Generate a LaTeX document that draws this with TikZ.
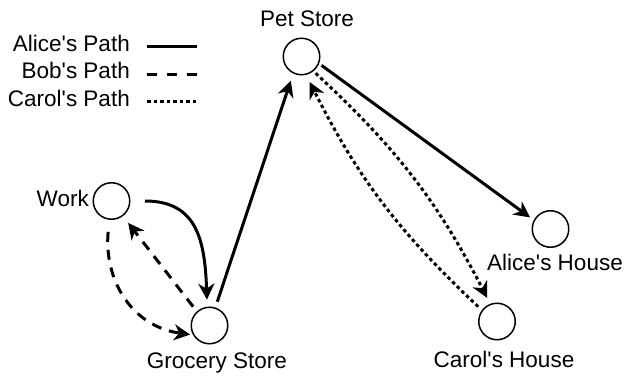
\documentclass[tikz,border=0pt]{standalone}
\usepackage{fontspec}
\setmainfont{Liberation Sans}
\usetikzlibrary{arrows.meta}
\newcommand{\apo}{\textquotesingle}
\begin{document}
\begin{tikzpicture}[x=1pt,y=1pt,
  place/.style={circle,draw,line width=1.5pt,minimum size=36.5pt,inner sep=0pt},
  lbl/.style={inner sep=0pt,font=\fontsize{22.5}{27}\selectfont},
  tip/.style={-{Stealth[length=16pt,width=16pt,inset=5pt]}},
  alicepath/.style={line width=3pt},
  bobpath/.style={line width=3pt,dash pattern=on 10pt off 8pt},
  carolpath/.style={line width=3pt,dash pattern=on 3.5pt off 3pt}]
\useasboundingbox (0,0) rectangle (628,375);
% places
\node[place] (pet) at (301.5,318.5) {};
\node[place] (work) at (111.5,174) {};
\node[place] (groc) at (209.5,49.5) {};
\node[place] (alice) at (550.5,146) {};
\node[place] (carol) at (497,53.5) {};
% labels
\node[lbl,anchor=base] (petl) at (307,348) {Pet Store};
\node[lbl,anchor=base east] (workl) at (89,168) {Work};
\node[lbl,anchor=base] (grocl) at (217,7) {Grocery Store};
\node[lbl,anchor=base] (alicel) at (555,105) {Alice\apo s House};
\node[lbl,anchor=base] (caroll) at (504,8) {Carol\apo s House};
% legend
\node[lbl,anchor=base east] (la) at (130,323) {Alice\apo s Path};
\node[lbl,anchor=base east] (lb) at (130,296) {Bob\apo s Path};
\node[lbl,anchor=base east] (lc) at (130,268) {Carol\apo s Path};
\coordinate (la1) at (147,328); \coordinate (la2) at (197,328);
\coordinate (lb1) at (147,300); \coordinate (lb2) at (197,300);
\coordinate (lc1) at (147,273); \coordinate (lc2) at (197,273);
\draw[alicepath] (la1) -- (la2);
\draw[bobpath,dash pattern=on 10pt off 10pt] (lb1) -- (lb2);
\draw[carolpath] (lc1) -- (lc2);
% Alice
\draw[alicepath,tip,shorten <=14.5pt,shorten >=7pt] (work.east) to[out=0,in=92,looseness=1.3] (groc.97);
\draw[alicepath,tip,shorten <=6pt,shorten >=7.5pt] (groc.72) -- (pet.244);
\draw[alicepath,tip,shorten <=3pt,shorten >=4.5pt] (pet.-22) -- (alice.152);
% Bob
\draw[bobpath,tip,shorten <=12pt,shorten >=3pt] (work.263) to[out=265,in=172,looseness=1.1] (groc.210);
\draw[bobpath,tip,shorten <=6pt,shorten >=8.5pt] (groc.132) -- (work.-53);
% Carol
\draw[carolpath,tip,shorten <=3pt,shorten >=6.5pt] (pet.-51) to[bend left=10] (carol.111);
\draw[carolpath,tip,shorten <=5pt,shorten >=8pt] (carol.143) to[bend left=10] (pet.-76);
\end{tikzpicture}
\end{document}
